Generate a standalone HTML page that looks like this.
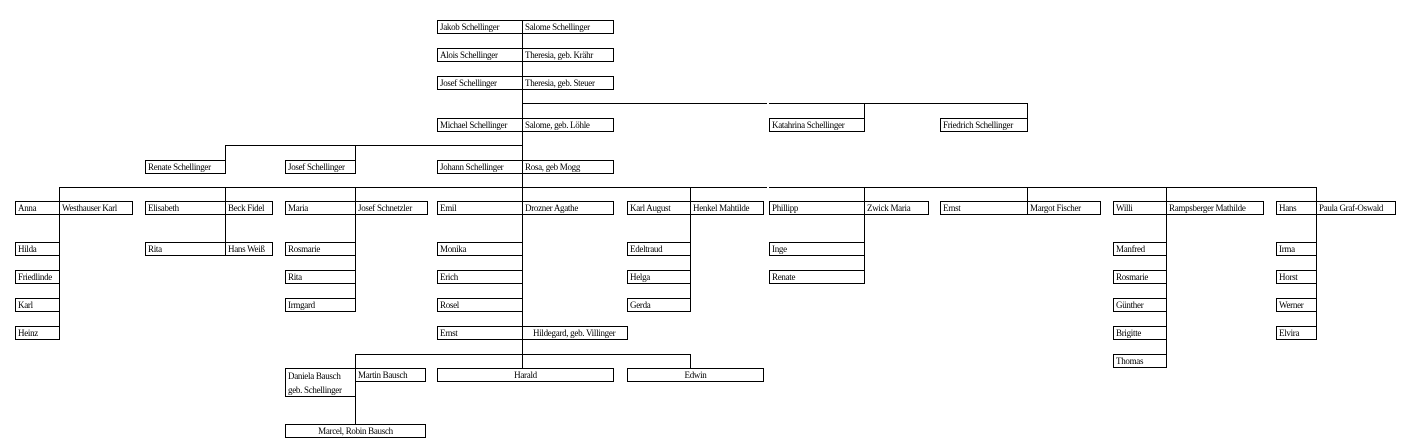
<!DOCTYPE html>
<html><head><meta charset="utf-8"><style>
body{margin:0;width:1413px;height:444px;background:#fff;position:relative;overflow:hidden;font-family:"Liberation Serif",serif;font-size:9px;letter-spacing:-0.3px;color:#000}
.b{position:absolute;border:1px solid #000;box-sizing:border-box;height:14px;line-height:12px;padding-left:2px;white-space:nowrap;overflow:hidden;background:#fff}
.c{text-align:center;padding-left:0}
.h{position:absolute;height:1px;background:#000}
.v{position:absolute;width:1px;background:#000}
</style></head><body>
<!-- lines -->
<div class="v" style="left:522px;top:33px;height:335px"></div>
<div class="h" style="left:522px;top:103px;width:245px"></div>
<div class="h" style="left:769px;top:103px;width:259px"></div>
<div class="v" style="left:864px;top:103px;height:15px"></div>
<div class="v" style="left:1027px;top:103px;height:15px"></div>
<div class="h" style="left:225px;top:145px;width:298px"></div>
<div class="v" style="left:225px;top:145px;height:15px"></div>
<div class="v" style="left:355px;top:145px;height:15px"></div>
<div class="h" style="left:59px;top:187px;width:708px"></div>
<div class="h" style="left:769px;top:187px;width:548px"></div>
<div class="v" style="left:59px;top:187px;height:153px"></div>
<div class="v" style="left:225px;top:187px;height:55px"></div>
<div class="v" style="left:355px;top:187px;height:124px"></div>
<div class="v" style="left:690px;top:187px;height:124px"></div>
<div class="v" style="left:864px;top:187px;height:97px"></div>
<div class="v" style="left:1027px;top:187px;height:14px"></div>
<div class="v" style="left:1166px;top:187px;height:181px"></div>
<div class="v" style="left:1316px;top:187px;height:153px"></div>
<div class="h" style="left:355px;top:354px;width:336px"></div>
<div class="v" style="left:355px;top:354px;height:14px"></div>
<div class="v" style="left:690px;top:354px;height:14px"></div>
<div class="v" style="left:355px;top:396px;height:28px"></div>

<!-- generations top -->
<div class="b" style="left:437px;top:20px;width:86px">Jakob Schellinger</div>
<div class="b" style="left:522px;top:20px;width:92px">Salome Schellinger</div>
<div class="b" style="left:437px;top:48px;width:86px">Alois Schellinger</div>
<div class="b" style="left:522px;top:48px;width:92px">Theresia, geb. Krähr</div>
<div class="b" style="left:437px;top:76px;width:86px">Josef Schellinger</div>
<div class="b" style="left:522px;top:76px;width:92px">Theresia, geb. Steuer</div>
<div class="b" style="left:437px;top:118px;width:86px">Michael Schellinger</div>
<div class="b" style="left:522px;top:118px;width:92px">Salome, geb. Löhle</div>
<div class="b" style="left:769px;top:118px;width:96px">Katahrina Schellinger</div>
<div class="b" style="left:940px;top:118px;width:88px">Friedrich Schellinger</div>
<div class="b" style="left:145px;top:160px;width:81px">Renate Schellinger</div>
<div class="b" style="left:285px;top:160px;width:71px">Josef Schellinger</div>
<div class="b" style="left:437px;top:160px;width:86px">Johann Schellinger</div>
<div class="b" style="left:522px;top:160px;width:92px">Rosa, geb Mogg</div>

<!-- children row -->
<div class="b" style="left:15px;top:201px;width:45px">Anna</div>
<div class="b" style="left:59px;top:201px;width:74px">Westhauser Karl</div>
<div class="b" style="left:145px;top:201px;width:81px">Elisabeth</div>
<div class="b" style="left:225px;top:201px;width:48px">Beck Fidel</div>
<div class="b" style="left:285px;top:201px;width:71px">Maria</div>
<div class="b" style="left:355px;top:201px;width:73px">Josef Schnetzler</div>
<div class="b" style="left:437px;top:201px;width:86px">Emil</div>
<div class="b" style="left:522px;top:201px;width:92px">Drozner Agathe</div>
<div class="b" style="left:627px;top:201px;width:64px">Karl August</div>
<div class="b" style="left:690px;top:201px;width:74px">Henkel Mahtilde</div>
<div class="b" style="left:769px;top:201px;width:96px">Phillipp</div>
<div class="b" style="left:864px;top:201px;width:65px">Zwick Maria</div>
<div class="b" style="left:940px;top:201px;width:88px">Ernst</div>
<div class="b" style="left:1027px;top:201px;width:74px">Margot Fischer</div>
<div class="b" style="left:1113px;top:201px;width:54px">Willi</div>
<div class="b" style="left:1166px;top:201px;width:98px">Rampsberger Mathilde</div>
<div class="b" style="left:1276px;top:201px;width:41px">Hans</div>
<div class="b" style="left:1316px;top:201px;width:80px">Paula Graf-Oswald</div>

<!-- grandchildren -->
<div class="b" style="left:15px;top:242px;width:45px">Hilda</div>
<div class="b" style="left:15px;top:270px;width:45px">Friedlinde</div>
<div class="b" style="left:15px;top:298px;width:45px">Karl</div>
<div class="b" style="left:15px;top:326px;width:45px">Heinz</div>
<div class="b" style="left:145px;top:242px;width:81px">Rita</div>
<div class="b" style="left:225px;top:242px;width:48px">Hans Weiß</div>
<div class="b" style="left:285px;top:242px;width:71px">Rosmarie</div>
<div class="b" style="left:285px;top:270px;width:71px">Rita</div>
<div class="b" style="left:285px;top:298px;width:71px">Irmgard</div>
<div class="b" style="left:437px;top:242px;width:86px">Monika</div>
<div class="b" style="left:437px;top:270px;width:86px">Erich</div>
<div class="b" style="left:437px;top:298px;width:86px">Rosel</div>
<div class="b" style="left:437px;top:326px;width:86px">Ernst</div>
<div class="b" style="left:522px;top:326px;width:106px;padding-left:10px">Hildegard, geb. Villinger</div>
<div class="b" style="left:627px;top:242px;width:64px">Edeltraud</div>
<div class="b" style="left:627px;top:270px;width:64px">Helga</div>
<div class="b" style="left:627px;top:298px;width:64px">Gerda</div>
<div class="b" style="left:769px;top:242px;width:96px">Inge</div>
<div class="b" style="left:769px;top:270px;width:96px">Renate</div>
<div class="b" style="left:1113px;top:242px;width:54px">Manfred</div>
<div class="b" style="left:1113px;top:270px;width:54px">Rosmarie</div>
<div class="b" style="left:1113px;top:298px;width:54px">Günther</div>
<div class="b" style="left:1113px;top:326px;width:54px">Brigitte</div>
<div class="b" style="left:1113px;top:354px;width:54px">Thomas</div>
<div class="b" style="left:1276px;top:242px;width:41px">Irma</div>
<div class="b" style="left:1276px;top:270px;width:41px">Horst</div>
<div class="b" style="left:1276px;top:298px;width:41px">Werner</div>
<div class="b" style="left:1276px;top:326px;width:41px">Elvira</div>

<!-- great-grandchildren -->
<div class="b" style="left:285px;top:368px;width:71px;height:29px;line-height:14px;white-space:normal">Daniela Bausch<br>geb. Schellinger</div>
<div class="b" style="left:355px;top:368px;width:71px">Martin Bausch</div>
<div class="b c" style="left:437px;top:368px;width:177px">Harald</div>
<div class="b c" style="left:627px;top:368px;width:137px">Edwin</div>
<div class="b c" style="left:285px;top:424px;width:141px">Marcel, Robin Bausch</div>
</body></html>
